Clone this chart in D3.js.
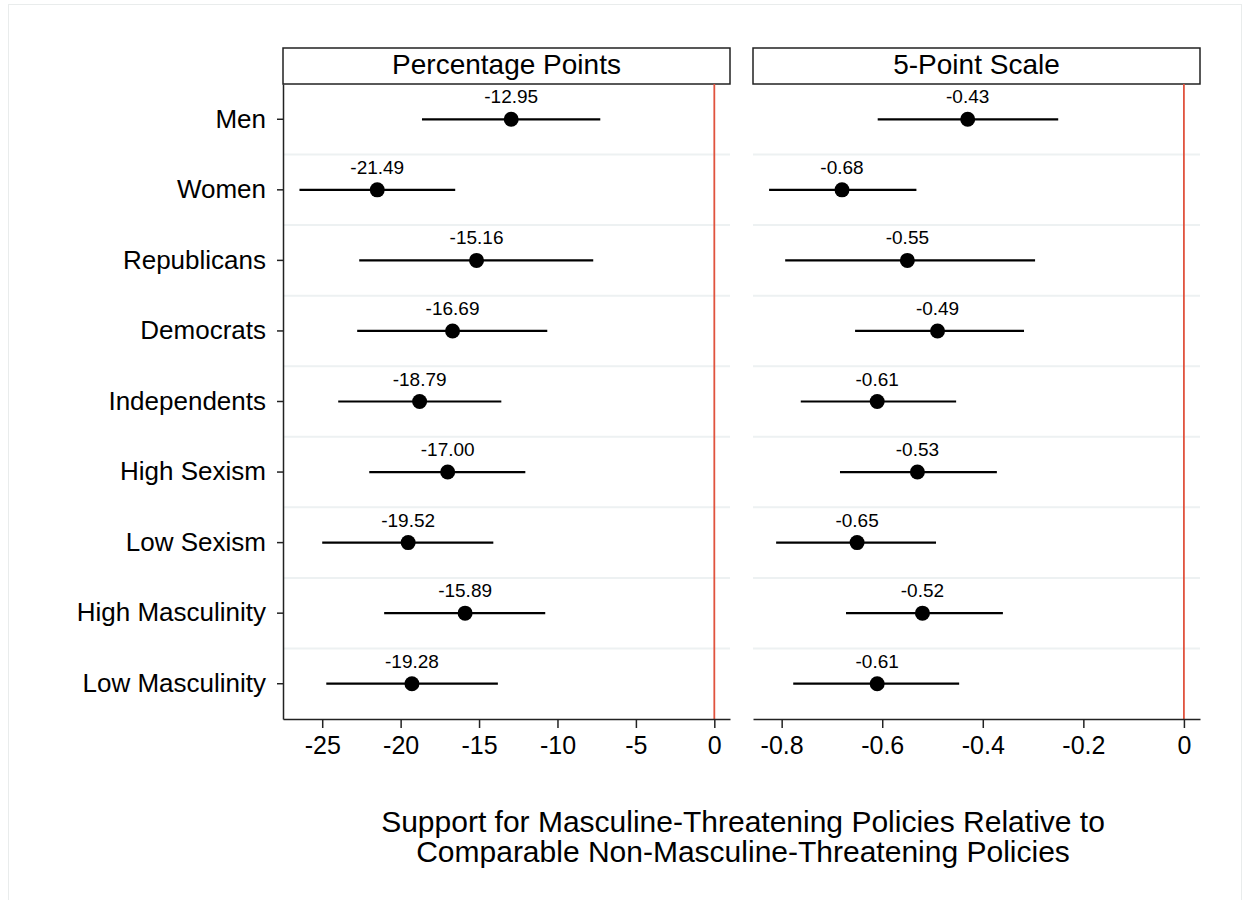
<!DOCTYPE html>
<html>
<head>
<meta charset="utf-8">
<script src="https://cdn.jsdelivr.net/npm/d3@7"></script>
<style>
  body { margin: 0; background: #fff; }
  text { font-family: "Liberation Sans", Arial, Helvetica, sans-serif; fill: #000; }
</style>
</head>
<body>
<div id="chart"></div>
<script>
// groups, top to bottom
const groups = ["Men", "Women", "Republicans", "Democrats", "Independents",
  "High Sexism", "Low Sexism", "High Masculinity", "Low Masculinity"];

// percentage points panel
const ppEst = [-12.95, -21.49, -15.16, -16.69, -18.79, -17.00, -19.52, -15.89, -19.28];
const ppLo  = [-18.64, -26.45, -22.64, -22.77, -23.98, -22.00, -25.00, -21.05, -24.74];
const ppHi  = [-7.27, -16.52, -7.72, -10.65, -13.58, -12.05, -14.09, -10.78, -13.80];
const ppTicks = [-25, -20, -15, -10, -5, 0];

// 5-point scale panel
const spEst = [-0.43, -0.68, -0.55, -0.49, -0.61, -0.53, -0.65, -0.52, -0.61];
const spLo  = [-0.609, -0.825, -0.793, -0.654, -0.762, -0.684, -0.811, -0.672, -0.777];
const spHi  = [-0.250, -0.532, -0.296, -0.318, -0.453, -0.372, -0.493, -0.360, -0.447];
const spTicks = [-0.8, -0.6, -0.4, -0.2, 0];

const W = 1244, H = 900;
const plotTop = 84, plotBottom = 719, headTop = 48;

// plain hyphen instead of d3's unicode minus
const hyph = f => d => f(d).replace("\u2212", "-");

const svg = d3.select("#chart").append("svg")
  .attr("width", W).attr("height", H);

// light outer frame
svg.append("rect")
  .attr("x", 8.5).attr("y", 4.5)
  .attr("width", 1233).attr("height", 900)
  .attr("fill", "none").attr("stroke", "#e9ecec").attr("stroke-width", 1);

const y = d3.scaleBand().domain(groups).range([plotTop, plotBottom]);

const panels = [
  { title: "Percentage Points", x0: 283, x1: 730, domain: [-27.5, 1.0],
    est: ppEst, lo: ppLo, hi: ppHi, ticks: ppTicks, fmt: hyph(d3.format(".2f")),
    tickFmt: hyph(d3.format("d")), leftAxis: true },
  { title: "5-Point Scale", x0: 753, x1: 1200, domain: [-0.857, 0.032],
    est: spEst, lo: spLo, hi: spHi, ticks: spTicks, fmt: hyph(d3.format(".2f")),
    tickFmt: d => d === 0 ? "0" : hyph(d3.format(".1f"))(d), leftAxis: false }
];

panels.forEach(function (p) {
  const x = d3.scaleLinear().domain(p.domain).range([p.x0, p.x1]);
  const g = svg.append("g");
  const rows = groups.map((name, i) => ({ name: name, est: p.est[i], lo: p.lo[i], hi: p.hi[i] }));

  // header strip
  g.append("rect")
    .attr("x", p.x0).attr("y", headTop)
    .attr("width", p.x1 - p.x0).attr("height", plotTop - headTop)
    .attr("fill", "#fff").attr("stroke", "#222").attr("stroke-width", 1.5);
  g.append("text")
    .attr("x", (p.x0 + p.x1) / 2).attr("y", plotTop - 10)
    .attr("text-anchor", "middle")
    .style("font-size", "28px")
    .text(p.title);

  // light separators between rows
  g.selectAll(".sep")
    .data(groups.slice(1))
    .join("line")
    .attr("x1", p.x0).attr("x2", p.x1)
    .attr("y1", d => y(d)).attr("y2", d => y(d))
    .attr("stroke", "#edf1f2").attr("stroke-width", 2);

  // reference line at zero
  g.append("line")
    .attr("x1", x(0)).attr("x2", x(0))
    .attr("y1", plotTop).attr("y2", plotBottom)
    .attr("stroke", "#e0533e").attr("stroke-width", 1.8);

  // bottom axis
  const ax = g.append("g")
    .attr("transform", `translate(0,${plotBottom})`)
    .call(d3.axisBottom(x).tickValues(p.ticks).tickFormat(p.tickFmt)
      .tickSize(9).tickSizeOuter(0).tickPadding(8));
  ax.select(".domain").attr("stroke", "#222").attr("stroke-width", 1.5);
  ax.selectAll(".tick line").attr("stroke", "#222").attr("stroke-width", 1.5);
  ax.selectAll(".tick text")
    .style("font-size", "25px")
    .style("font-family", "'Liberation Sans', Arial, sans-serif")
    .attr("fill", "#000");

  if (p.leftAxis) {
    const ay = g.append("g")
      .attr("transform", `translate(${p.x0},0)`)
      .call(d3.axisLeft(y).tickSize(6).tickSizeOuter(0).tickPadding(11));
    ay.select(".domain").attr("stroke", "#222").attr("stroke-width", 1.5);
    ay.selectAll(".tick line").attr("stroke", "#222").attr("stroke-width", 1.5);
    ay.selectAll(".tick text")
      .style("font-size", "26px")
      .style("font-family", "'Liberation Sans', Arial, sans-serif")
      .attr("fill", "#000");
  }

  // confidence intervals
  g.selectAll(".ci")
    .data(rows)
    .join("line")
    .attr("x1", d => x(d.lo)).attr("x2", d => x(d.hi))
    .attr("y1", d => y(d.name) + y.bandwidth() / 2)
    .attr("y2", d => y(d.name) + y.bandwidth() / 2)
    .attr("stroke", "#000").attr("stroke-width", 2.2);

  // point estimates
  g.selectAll(".pt")
    .data(rows)
    .join("circle")
    .attr("cx", d => x(d.est))
    .attr("cy", d => y(d.name) + y.bandwidth() / 2)
    .attr("r", 7.5)
    .attr("fill", "#000");

  // value labels
  g.selectAll(".lab")
    .data(rows)
    .join("text")
    .attr("x", d => x(d.est))
    .attr("y", d => y(d.name) + y.bandwidth() / 2 - 16)
    .attr("text-anchor", "middle")
    .style("font-size", "19px")
    .text(d => p.fmt(d.est));
});

// x axis title
const title = svg.append("text")
  .attr("text-anchor", "middle")
  .style("font-size", "30px");
title.append("tspan").attr("x", 743).attr("y", 832)
  .text("Support for Masculine-Threatening Policies Relative to");
title.append("tspan").attr("x", 743).attr("y", 862)
  .text("Comparable Non-Masculine-Threatening Policies");
</script>
</body>
</html>
